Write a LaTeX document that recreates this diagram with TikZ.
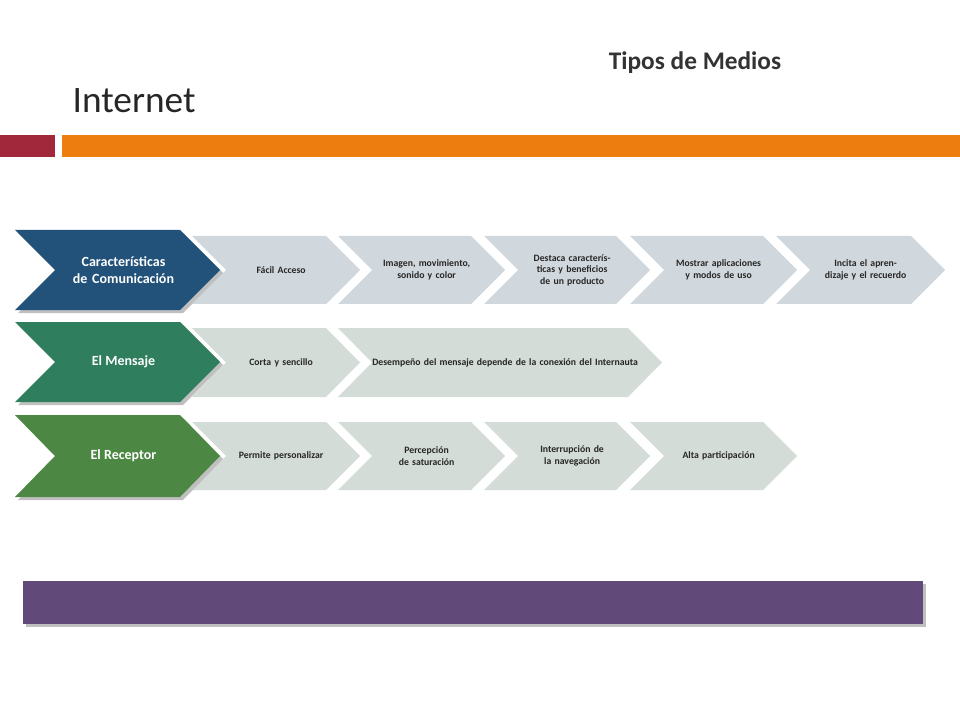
\documentclass[tikz,border=0pt]{standalone}
\usepackage{fontspec}
\setmainfont{Carlito}
\usetikzlibrary{positioning, calc}
\definecolor{redbar}{HTML}{A0283A}
\definecolor{orangebar}{HTML}{EE7D10}
\definecolor{headblue}{HTML}{22527A}
\definecolor{headgreen}{HTML}{2F7E5E}
\definecolor{headleaf}{HTML}{4C8743}
\definecolor{stepblue}{HTML}{D1D8DD}
\definecolor{stepgreen}{HTML}{D3DCD6}
\definecolor{purplebar}{HTML}{614A79}
\definecolor{textgrey}{HTML}{262626}
% chevron: name, x1, x2, ytop, ybottom, depth, fill, text width
\newcommand{\chev}[8]{%
  \fill[#7] (#2,#4) -- (#3-#6,#4) -- (#3,{(#4+#5)/2}) -- (#3-#6,#5) -- (#2,#5) -- (#2+#6,{(#4+#5)/2}) -- cycle;
  \coordinate (#1) at ({(#2+#3)/2+#6*0.15},{(#4+#5)/2});}
\begin{document}
\begin{tikzpicture}[x=0.75pt, y=-0.75pt,
    steptext/.style = {text centered, font=\bfseries\fontsize{7.3}{8.6}\selectfont, text=textgrey},
    headtext/.style = {text centered, font=\bfseries\fontsize{10.5}{12.5}\selectfont, text=white},
    shade/.style = {fill=black!25}
  ]
  \useasboundingbox (0,0) rectangle (960,720);
  \node[anchor=base west, font=\fontsize{28}{30}\selectfont, text=black!85] (title) at (68,113) {Internet};
  \node[anchor=base, font=\bfseries\fontsize{19}{21}\selectfont, text=black!80] (medios) at (695,70) {Tipos de Medios};
  \fill[redbar] (0,135) rectangle (55,157);
  \fill[orangebar] (62,135) rectangle (960,157);

  % row 1
  \foreach \a/\b/\n in {192/360/s1, 338/505/s2, 484/650/s3, 630/797/s4, 776/945/s5}
    {\chev{\n}{\a}{\b}{236}{304}{34}{stepblue}{}}
  \chev{s0sh}{18}{223}{233}{313}{40}{shade}{}
  \chev{s0}{15}{220}{230}{310}{40}{headblue}{}
  \node[headtext, text width=95pt] (car) at (s0) {Características de Comunicación};
  \node[steptext, text width=70pt] at (s1) {Fácil Acceso};
  \node[steptext, text width=72pt] at (s2) {Imagen, movimiento, sonido y color};
  \node[steptext, text width=76pt] at (s3) {Destaca características y beneficios de un producto};
  \node[steptext, text width=72pt] at (s4) {Mostrar aplicaciones y modos de uso};
  \node[steptext, text width=72pt] at (s5) {Incita el aprendizaje y el recuerdo};

  % row 2
  \chev{m1}{192}{360}{328}{397}{34}{stepgreen}{}
  \chev{m2}{338}{662}{328}{397}{34}{stepgreen}{}
  \chev{m0sh}{18}{223}{325}{405}{40}{shade}{}
  \chev{m0}{15}{220}{322}{402}{40}{headgreen}{}
  \node[headtext] (men) at (m0) {El Mensaje};
  \node[steptext, text width=70pt] at (m1) {Corta y sencillo};
  \node[steptext, text width=200pt] at (m2) {Desempeño del mensaje depende de la conexión del Internauta};

  % row 3
  \foreach \a/\b/\n in {192/360/r1, 338/505/r2, 484/650/r3, 630/797/r4}
    {\chev{\n}{\a}{\b}{422}{490}{34}{stepgreen}{}}
  \chev{r0sh}{18}{223}{418}{500}{40}{shade}{}
  \chev{r0}{15}{220}{415}{497}{40}{headleaf}{}
  \node[headtext] (rec) at (r0) {El Receptor};
  \node[steptext, text width=70pt] at (r1) {Permite personalizar};
  \node[steptext, text width=76pt] at (r2) {Percepción de saturación};
  \node[steptext, text width=66pt] at (r3) {Interrupción de la navegación};
  \node[steptext, text width=70pt] at (r4) {Alta participación};

  \fill[black!25] (26,584) rectangle (926,627);
  \fill[purplebar] (23,581) rectangle (923,624);
\end{tikzpicture}
\end{document}
